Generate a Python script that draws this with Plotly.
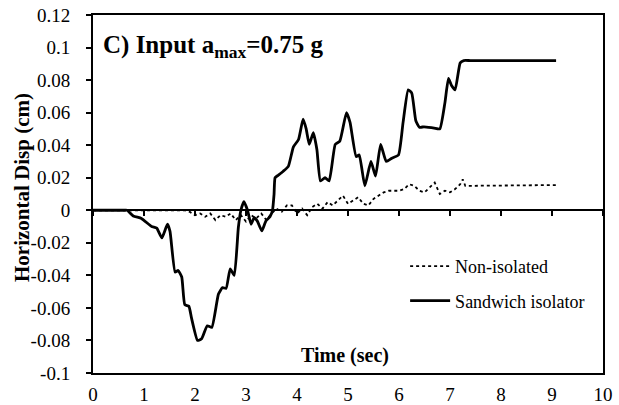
import plotly.graph_objects as go

# ---- data ----
sand_t = [0, 0.60, 0.67, 0.79, 0.95, 1.15, 1.25, 1.35, 1.46, 1.51, 1.61, 1.67, 1.74, 1.80, 1.88, 1.93,
          2.05, 2.13, 2.24, 2.33, 2.46, 2.54, 2.61, 2.69, 2.77, 2.85, 2.90, 2.96, 3.03, 3.10, 3.16,
          3.22, 3.31, 3.39, 3.47, 3.52, 3.55, 3.57, 3.63, 3.73, 3.83, 3.93, 4.03, 4.12, 4.18, 4.24,
          4.32, 4.39, 4.46, 4.55, 4.63, 4.75, 4.84, 4.97, 5.04, 5.16, 5.22, 5.33, 5.45, 5.54, 5.64,
          5.75, 5.86, 5.99, 6.08, 6.18, 6.25, 6.33, 6.40, 6.49, 6.58, 6.69, 6.80, 6.90, 6.97, 7.03,
          7.10, 7.20, 7.27, 7.40, 9.08]
sand_d = [0, 0, 0, -0.0035, -0.005, -0.010, -0.011, -0.017, -0.0086, -0.013, -0.038, -0.037, -0.041,
          -0.058, -0.059, -0.066, -0.080, -0.079, -0.071, -0.072, -0.0515, -0.0475, -0.048, -0.036,
          -0.040, -0.0106, 0, 0.0053, 0, -0.0086, -0.0045, -0.0065, -0.0127, -0.0066, -0.004, 0,
          0.0098, 0.020, 0.0215, 0.024, 0.027, 0.039, 0.0435, 0.056, 0.050, 0.0405, 0.0477, 0.0374,
          0.018, 0.020, 0.018, 0.0405, 0.0425, 0.060, 0.054, 0.033, 0.034, 0.015, 0.030, 0.021,
          0.0405, 0.030, 0.032, 0.034, 0.054, 0.074, 0.072, 0.055, 0.051, 0.0513, 0.051, 0.0505,
          0.050, 0.066, 0.081, 0.0767, 0.074, 0.0906, 0.092, 0.092, 0.092]

non_t = [0.0, 0.1, 0.2, 0.3, 0.4, 0.5, 0.6, 0.7, 0.8, 0.9, 1.0, 1.1, 1.2, 1.3, 1.4, 1.5, 1.6, 1.7, 1.8,
         1.9, 2.0, 2.1, 2.2, 2.3, 2.4, 2.5, 2.6, 2.7, 2.8, 2.9, 3.0, 3.1, 3.2, 3.3, 3.4, 3.5, 3.6,
         3.7, 3.8, 3.9, 4.0, 4.1, 4.2, 4.3, 4.4, 4.5, 4.6, 4.7, 4.8, 4.9, 5.0, 5.1, 5.2, 5.3, 5.4,
         5.5, 5.6, 5.7, 5.8, 5.9, 6.0, 6.1, 6.2, 6.3, 6.4, 6.5, 6.6, 6.7, 6.8, 6.9, 7.0, 7.1, 7.2,
         7.25, 7.3, 9.08]
non_d = [0, 0, 0, 0, 0, 0, 0, 0, 0, 0, 0, 0, 0, 0, 0, 0, 0, 0, 0,
         -0.001, -0.003, -0.002, -0.004, -0.002, -0.006, -0.003, -0.004, -0.002, -0.006, -0.003,
         -0.007, -0.003, -0.005, -0.002, -0.006, -0.002, 0.001, -0.001, 0.003, 0.003, -0.002,
         0.001, -0.003, 0.002, 0.004, 0.001, 0.005, 0.003, 0.006, 0.009, 0.004, 0.006, 0.008,
         0.004, 0.003, 0.007, 0.009, 0.011, 0.012, 0.012, 0.012, 0.013, 0.016, 0.015, 0.012,
         0.011, 0.014, 0.017, 0.010, 0.012, 0.011, 0.013, 0.016, 0.019, 0.015, 0.0155]

y_ticks = [0.12, 0.1, 0.08, 0.06, 0.04, 0.02, 0, -0.02, -0.04, -0.06, -0.08, -0.1]
y_tick_labels = ["0.12", "0.1", "0.08", "0.06", "0.04", "0.02", "0", "-0.02", "-0.04", "-0.06", "-0.08", "-0.1"]
x_ticks = [0, 1, 2, 3, 4, 5, 6, 7, 8, 9, 10]

FONT = "Liberation Serif"

fig = go.Figure()
fig.add_trace(go.Scatter(x=non_t, y=non_d, mode="lines", name="Non-isolated",
                         line=dict(color="black", width=1.8, dash="dot"),
                         legendgroup="a"))
fig.add_trace(go.Scatter(x=sand_t, y=sand_d, mode="lines", name="Sandwich isolator",
                         line=dict(color="black", width=2.8, shape="spline", smoothing=0.45),
                         legendgroup="b"))
# invisible trace on axis x2 so it renders
fig.add_trace(go.Scatter(x=[0], y=[0], xaxis="x2", mode="markers",
                         marker=dict(opacity=0), showlegend=False, hoverinfo="skip"))

fig.update_layout(
    width=619, height=405,
    margin=dict(l=93, r=16, t=15, b=32, autoexpand=False),
    paper_bgcolor="white", plot_bgcolor="white",
    font=dict(family=FONT, size=18, color="black"),
    showlegend=True,
    legend=dict(x=0.612, y=0.25, xanchor="left", yanchor="middle",
                bgcolor="rgba(0,0,0,0)", font=dict(size=18, family=FONT),
                traceorder="grouped", tracegroupgap=8, itemwidth=40),
    xaxis=dict(range=[0, 10], tickvals=x_ticks, showgrid=False, zeroline=False,
               showline=True, linecolor="black", linewidth=2, mirror=True,
               ticks="", tickfont=dict(size=19, family=FONT), ticklabelstandoff=3,
               ticklabeloverflow="allow", automargin=False),
    xaxis2=dict(range=[0, 10], overlaying="x", anchor="free", position=0.1 / 0.22,
                side="bottom", tickvals=x_ticks, showticklabels=False, showgrid=False,
                zeroline=False, showline=True, linecolor="black", linewidth=1.5,
                ticks="outside", ticklen=5, tickwidth=2, tickcolor="black", automargin=False),
    yaxis=dict(range=[-0.1, 0.12], tickvals=y_ticks, ticktext=y_tick_labels,
               showgrid=False, zeroline=False, showline=True, linecolor="black",
               linewidth=2, mirror=True, ticks="outside", ticklen=5, tickwidth=2,
               tickcolor="black", tickfont=dict(size=19, family=FONT), ticklabelstandoff=12,
               automargin=False),
    annotations=[
        dict(text="<b>Horizontal Disp (cm)</b>", xref="paper", yref="paper",
             x=(22 - 93) / 510, y=(373 - 188) / 358, xanchor="center", yanchor="middle",
             textangle=-90, showarrow=False, font=dict(size=21, family=FONT)),
        dict(text="<b>C) Input a<sub>max</sub>=0.75 g</b>", xref="paper", yref="paper",
             x=(101 - 93) / 510, y=0.912, xanchor="left", yanchor="middle", showarrow=False,
             font=dict(size=25, family=FONT)),
        dict(text="<b>Time (sec)</b>", xref="paper", yref="paper",
             x=(345 - 93) / 510, y=(373 - 355) / 358, xanchor="center", yanchor="middle",
             showarrow=False, font=dict(size=20, family=FONT)),
    ],
)

fig.write_html("out.html", config={"displayModeBar": False},
               post_script="document.body.style.margin='0px';")
